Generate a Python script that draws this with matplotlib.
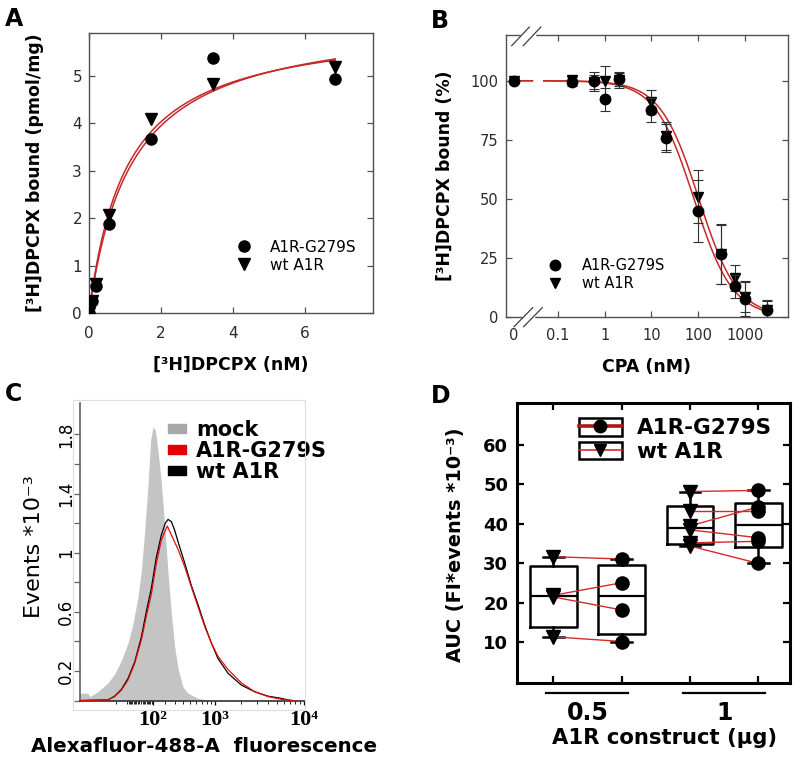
import numpy as np
import matplotlib
matplotlib.use('Agg')
import matplotlib.pyplot as plt
import matplotlib.transforms as mtransforms
from matplotlib.lines import Line2D
from matplotlib.patches import Patch, Rectangle
from matplotlib.ticker import NullLocator

# ---------------- data ----------------
# A: saturation binding
a_conc = [0.0, 0.08, 0.2, 0.55, 1.72, 3.45, 6.85]
a_mut = [0.0, 0.25, 0.58, 1.88, 3.68, 5.37, 4.94]
a_wt = [0.0, 0.25, 0.62, 2.07, 4.10, 4.82, 5.18]
a_fit_mut = (6.28, 1.18)   # Bmax, Kd
a_fit_wt = (6.15, 1.05)

# B: competition with CPA (first point is "0")
b_conc = [0, 0.2, 0.6, 1, 2, 10, 20, 100, 300, 600, 1000, 3000]
b_mut = [100, 99.3, 99.8, 92.1, 100.7, 87.6, 75.8, 44.8, 26.5, 12.8, 7.5, 2.8]
b_mut_err = [0, 1.5, 4.0, 4.8, 3.0, 5.0, 6.0, 13.0, 12.8, 5.0, 7.3, 4.0]
b_wt = [100, 100.4, 99.5, 100.0, 100.2, 91.0, 76.5, 50.8, 26.5, 16.5, 8.5, 3.0]
b_wt_err = [0, 1.0, 3.0, 6.4, 3.2, 5.0, 6.0, 11.3, 12.5, 5.5, 6.5, 4.0]
b_fit_mut = (81.0, 1.05)   # IC50, slope
b_fit_wt = (103.0, 1.05)
b_zero_pos = 0.0114

# C: flow cytometry histograms
c_mock_f = [-709, -532, -507, -392, -277, -211, -151, -95, -56, -17, 9, 35, 60, 81,
            100, 119, 142, 171, 201, 233, 266, 302, 341, 400, 467, 626, 905]
c_mock_v = [0.05, 0.05, 0.027, 0.06, 0.12, 0.18, 0.27, 0.39, 0.52, 0.70, 0.88, 1.15, 1.45, 1.76,
            1.85, 1.83, 1.69, 1.47, 1.18, 0.86, 0.59, 0.36, 0.21, 0.09, 0.05, 0.015, 0.0]
c_mut_f = [-709, -277, -211, -151, -95, -43, 9, 47, 87, 128, 171, 207, 226, 266, 341, 422,
           515, 626, 756, 905, 1080, 1409, 1995, 2815, 3969, 5596, 7871]
c_mut_v = [0.0, 0.005, 0.027, 0.07, 0.14, 0.25, 0.41, 0.57, 0.72, 0.93, 1.085, 1.15, 1.18, 1.12,
           1.02, 0.905, 0.77, 0.635, 0.50, 0.39, 0.30, 0.21, 0.12, 0.06, 0.027, 0.009, 0.0]
c_wt_f = [-709, -277, -211, -151, -95, -43, 9, 47, 87, 128, 171, 207, 233, 266, 302, 341, 422,
          515, 626, 756, 905, 1080, 1409, 1995, 2815, 3969, 5596, 7225]
c_wt_v = [0.0, 0.005, 0.03, 0.075, 0.15, 0.26, 0.43, 0.60, 0.76, 0.97, 1.12, 1.20, 1.225, 1.21,
          1.15, 1.07, 0.93, 0.78, 0.65, 0.51, 0.39, 0.285, 0.185, 0.105, 0.06, 0.03, 0.015, 0.0]

# D: AUC box plots (wt and mutant, paired by index)
d_groups = ['0.5', '1']
d_wt = [[11.4, 21.5, 21.9, 31.7], [34.4, 35.2, 38.5, 39.5, 43.2, 48.2]]
d_mut = [[10.2, 18.2, 25.1, 31.1], [30.0, 35.6, 36.5, 44.3, 43.2, 48.5]]

RED = '#c62828'
W, H = 800, 761

fig = plt.figure(figsize=(8, 7.61), dpi=100)


def thin_frame(ax, lsize, xpad, ypad):
    for s in ax.spines.values():
        s.set_color('#505050')
        s.set_linewidth(1.0)
    ax.tick_params(direction='in', length=4, width=0.9, color='#505050', top=True, right=True,
                   labelsize=lsize, labelcolor='#2a2a2a')
    ax.tick_params(axis='x', pad=xpad)
    ax.tick_params(axis='y', pad=ypad)


def label_at(ax, xc, yc):
    ax.xaxis.label.set_va('center')
    ax.yaxis.label.set_va('center')
    ax.xaxis.set_label_coords(*xc)
    ax.yaxis.set_label_coords(*yc)


# ---------------- A ----------------
axA = fig.add_axes([89 / W, 1 - 313.3 / H, 283.7 / W, 280.6 / H])
xs = np.linspace(0, max(a_conc), 300)
for bmax, kd in (a_fit_mut, a_fit_wt):
    axA.plot(xs, bmax * xs / (kd + xs), color=RED, lw=1.1, zorder=2)
axA.plot(a_conc, a_mut, 'o', color='k', ms=8, label='A1R-G279S', zorder=3)
axA.plot(a_conc, a_wt, 'v', color='k', ms=8, label='wt A1R', zorder=3)
axA.set_xlim(0, 7.89)
axA.set_ylim(0, 5.91)
axA.set_xticks([0, 2, 4, 6])
axA.set_yticks([0, 1, 2, 3, 4, 5])
thin_frame(axA, 11, 9.5, 5)
axA.set_xlabel('[³H]DPCPX (nM)', fontsize=12.5, fontweight='bold')
axA.set_ylabel('[³H]DPCPX bound (pmol/mg)', fontsize=12.5, fontweight='bold')
label_at(axA, (0.5, -0.184), (-0.19, 0.5))
axA.legend(loc='upper left', bbox_to_anchor=(0.5206, 0.263), frameon=False, fontsize=11,
           handlelength=1.0, handletextpad=1.18, labelspacing=0.2, borderpad=0, borderaxespad=0)

# ---------------- B ----------------
axB = fig.add_axes([505.7 / W, 1 - 316.7 / H, 282 / W, 282 / H])
axB.set_xscale('log')
bx = [b_zero_pos if c == 0 else c for c in b_conc]


def hill(x, ic50, n):
    return 100.0 / (1.0 + (np.asarray(x) / ic50) ** n)


xs = np.logspace(np.log10(0.05), np.log10(max(b_conc)), 300)
xz = np.array([b_zero_pos, 0.0285])
for ic50, n in (b_fit_mut, b_fit_wt):
    axB.plot(xs, hill(xs, ic50, n), color=RED, lw=1.1, zorder=2)
    axB.plot(xz, hill(xz, ic50, n), color=RED, lw=1.1, zorder=2)
axB.errorbar(bx, b_wt, yerr=b_wt_err, fmt='v', color='k', ms=7.5, ecolor='#303030',
             elinewidth=0.8, capsize=3.6, capthick=0.8, zorder=3)
axB.errorbar(bx, b_mut, yerr=b_mut_err, fmt='o', color='k', ms=7.5, ecolor='#303030',
             elinewidth=0.8, capsize=3.6, capthick=0.8, zorder=4)
axB.set_xlim(0.00767, 8185)
axB.set_ylim(0, 119.5)
axB.set_xticks([b_zero_pos, 0.1, 1, 10, 100, 1000])
axB.set_xticklabels(['0', '0.1', '1', '10', '100', '1000'])
axB.xaxis.set_minor_locator(NullLocator())
axB.set_yticks([0, 25, 50, 75, 100])
thin_frame(axB, 10.5, 8, 5)
t0 = axB.xaxis.get_major_ticks()[0]
t0.tick1line.set_visible(False)
t0.tick2line.set_visible(False)
axB.set_xlabel('CPA (nM)', fontsize=12.5, fontweight='bold')
axB.set_ylabel('[³H]DPCPX bound (%)', fontsize=12.5, fontweight='bold')
label_at(axB, (0.5, -0.177), (-0.215, 0.5))
hB = [Line2D([], [], ls='none', marker='o', color='k', ms=7.5),
      Line2D([], [], ls='none', marker='v', color='k', ms=7.5)]
axB.legend(hB, ['A1R-G279S', 'wt A1R'], loc='upper left', bbox_to_anchor=(0.149, 0.2074),
           frameon=False, fontsize=10.5, handlelength=1.0, handletextpad=1.33,
           labelspacing=0.2, borderpad=0, borderaxespad=0)
# axis breaks
for (x1, x2), (y1, y2) in [((0.0643, 0.0984), (0, 0)), ((0.058, 0.1006), (1, 1))]:
    axB.plot([x1, x2], [y1, y2], transform=axB.transAxes, color='white', lw=2.5,
             clip_on=False, zorder=5)
for dx in (0.0, 0.034):
    axB.plot([0.0294 + dx, 0.0957 + dx], [-0.0355, 0.0319], transform=axB.transAxes,
             color='#404040', lw=0.9, clip_on=False, zorder=6)
    axB.plot([0.0213 + dx * 1.2, 0.0837 + dx * 1.2], [0.961, 1.027], transform=axB.transAxes,
             color='#404040', lw=0.9, clip_on=False, zorder=6)

# ---------------- C ----------------
axC = fig.add_axes([80 / W, 1 - 700.6 / H, 225 / W, 297.3 / H])
C_SCALE = 300.0
axC.set_xscale('function', functions=(lambda x: np.arcsinh(np.asarray(x) / C_SCALE),
                                      lambda u: C_SCALE * np.sinh(u)))
axC.fill_between(c_mock_f, c_mock_v, 0, color='#c4c4c4', lw=0, zorder=1)
axC.plot(c_wt_f, c_wt_v, color='k', lw=0.9, zorder=2)
axC.plot(c_mut_f, c_mut_v, color='#e01010', lw=0.9, zorder=3)
axC.set_xlim(-670, 10260)
axC.set_ylim(0, 2.01)
axC.set_xticks([100, 1000, 10000])
axC.set_xticklabels(['10²', '10³', '10⁴'], fontfamily=['Liberation Serif', 'DejaVu Serif'],
                    fontsize=16, fontweight='bold')
minor = [-200, -100] + [v * m for m in (-1, 1) for v in range(10, 100, 10)] + \
        list(range(200, 1000, 100)) + list(range(2000, 10000, 1000))
axC.set_xticks(sorted(minor), minor=True)
axC.set_yticks([0.2, 0.6, 1.0, 1.4, 1.8])
axC.set_yticklabels(['0.2', '0.6', '1', '1.4', '1.8'])
axC.set_yticks([0, 0.4, 0.8, 1.2, 1.6], minor=True)
for s in ('top', 'right'):
    axC.spines[s].set_visible(False)
axC.spines['left'].set_color('#606060')
axC.spines['bottom'].set_color('#303030')
axC.spines['left'].set_linewidth(1.2)
axC.spines['bottom'].set_linewidth(1.2)
axC.tick_params(axis='y', which='both', direction='out', length=4, width=0.9, color='#606060',
                labelsize=12, labelrotation=90, pad=-0.5)
axC.tick_params(axis='x', which='major', direction='out', length=3, width=0.9, pad=4)
axC.tick_params(axis='x', which='minor', direction='out', length=2, width=0.6)
for t in axC.get_yticklabels():
    t.set_va('center')
axC.set_xlabel('Alexafluor-488-A  fluorescence', fontsize=14.3, fontweight='bold')
axC.set_ylabel('Events *10⁻³', fontsize=16)
label_at(axC, (0.551, -0.155), (-0.204, 0.517))
axC.legend([Patch(color='#a8a8a8'), Patch(color='#e00000'), Patch(color='k')],
           ['mock', 'A1R-G279S', 'wt A1R'], loc='upper left', bbox_to_anchor=(0.391, 0.943),
           frameon=False, prop={'size': 15, 'weight': 'bold'}, handlelength=0.88,
           handleheight=0.29, handletextpad=0.48, labelspacing=0.05, borderpad=0,
           borderaxespad=0)
fig.add_artist(Rectangle((73 / W, 1 - 710 / H), 232 / W, 310 / H, transform=fig.transFigure,
                         fill=False, ec='#dddddd', lw=0.8))

# ---------------- D ----------------
axD = fig.add_axes([517.3 / W, 1 - 683.3 / H, 272.7 / W, 280 / H])
pos_wt = [1 + 2 * i for i in range(len(d_groups))]
pos_mut = [p + 1 for p in pos_wt]


def box_stats(vals):
    v = np.asarray(vals)
    q1, med, q3 = np.percentile(v, [25, 50, 75], method='weibull')
    return dict(med=med, q1=q1, q3=q3, whislo=v.min(), whishi=v.max(), fliers=[])


stats, positions = [], []
for i in range(len(d_groups)):
    stats += [box_stats(d_wt[i]), box_stats(d_mut[i])]
    positions += [pos_wt[i], pos_mut[i]]
lp = dict(color='k', lw=1.8)
axD.bxp(stats, positions=positions, widths=0.68, capwidths=0.3, showfliers=False,
        boxprops=lp, whiskerprops=lp, capprops=lp, medianprops=dict(color='k', lw=1.6),
        manage_ticks=False, zorder=1)
for i in range(len(d_groups)):
    for a, b in zip(d_wt[i], d_mut[i]):
        axD.plot([pos_wt[i], pos_mut[i]], [a, b], color='#d42a2a', lw=1.0, zorder=2)
    axD.plot([pos_wt[i]] * len(d_wt[i]), d_wt[i], 'v', color='k', ms=9.5, zorder=3)
    axD.plot([pos_mut[i]] * len(d_mut[i]), d_mut[i], 'o', color='k', ms=9.5, zorder=3)
axD.set_xlim(0.473, 4.464)
axD.set_ylim(-0.39, 70.57)
axD.set_xticks(positions)
axD.set_xticklabels([])
axD.set_yticks([10, 20, 30, 40, 50, 60])
for s in axD.spines.values():
    s.set_linewidth(2.2)
axD.tick_params(direction='in', length=4.8, width=1.6, top=True, right=True, labelsize=13, pad=6.5)
for t in axD.get_yticklabels():
    t.set_fontweight('bold')
trD = mtransforms.blended_transform_factory(axD.transData, axD.transAxes)
for i, g in enumerate(d_groups):
    c = (pos_wt[i] + pos_mut[i]) / 2
    axD.plot([c - 0.6, c + 0.6], [-0.036, -0.036], transform=trD, color='k', lw=1.6, clip_on=False)
    axD.text(c, -0.107, g, transform=trD, ha='center', va='center', fontsize=17, fontweight='bold')
axD.set_xlabel('A1R construct (µg)', fontsize=15.2, fontweight='bold')
axD.set_ylabel('AUC (FI*events *10⁻³)', fontsize=13.9, fontweight='bold')
label_at(axD, (0.54, -0.195), (-0.228, 0.494))
h1 = (Patch(fc='white', ec='k', lw=1.8),
      Line2D([], [], color='#b01515', lw=2.6, marker='o', ms=9, mfc='k', mec='k'))
h2 = (Patch(fc='white', ec='k', lw=1.8),
      Line2D([], [], color='#d42a2a', lw=1.2, marker='v', ms=9, mfc='k', mec='k'))
axD.legend([h1, h2], ['A1R-G279S', 'wt A1R'], loc='upper left', bbox_to_anchor=(0.226, 0.946),
           frameon=False, prop={'size': 15.5, 'weight': 'bold'}, handlelength=1.98,
           handleheight=0.85, handletextpad=0.7, labelspacing=0.15, borderpad=0,
           borderaxespad=0)

# panel letters
for letter, x, y in [('A', 5, 7), ('B', 431, 9), ('C', 5, 382), ('D', 431, 384)]:
    fig.text(x / W, 1 - y / H, letter, fontsize=17, fontweight='bold', va='top', ha='left')

fig.savefig('out.png', dpi=100)
